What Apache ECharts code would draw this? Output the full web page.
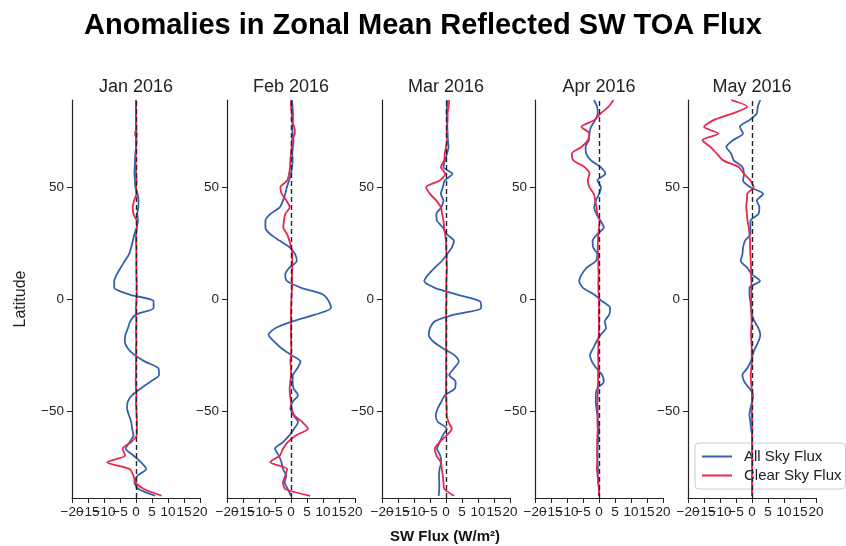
<!DOCTYPE html>
<html>
<head>
<meta charset="utf-8">
<script src="https://cdn.jsdelivr.net/npm/echarts@6/dist/echarts.min.js"></script>
<style>
  html, body { margin: 0; padding: 0; background: #fff; }
  #chart { width: 846px; height: 546px; }
</style>
</head>
<body>
<div id="chart"></div>
<script>
// latitude of every sample, north to south
const lats = [89, 86, 83, 80, 77, 74, 71, 68, 65, 62, 59, 56, 53, 50, 47, 44, 41, 38, 35, 32,
  29, 26, 23, 20, 17, 14, 11, 8, 5, 2, -1, -4, -7, -10, -13, -16, -19, -22, -25, -28,
  -31, -34, -37, -40, -43, -46, -49, -52, -55, -58, -61, -64, -67, -70, -73, -76, -79, -82, -85, -88]

const months = ['Jan 2016', 'Feb 2016', 'Mar 2016', 'Apr 2016', 'May 2016']

// x tick labels, split in two sets so that echarts does not drop the overlapping ones
const xTicksEven = [-20, -10, 0, 10, 20]
const xTicksOdd = [-15, -5, 5, 15]
const yTicks = [-50, 0, 50]

// All Sky Flux anomaly (W/m2)
const janAll = [0, 0, 0, 0, 0, 0.2, 0, 0, -0.2, -0.3,
  -0.4, -0.5, -0.3, -0.2, 0.5, 0.8, 0.7, 0.4, 0.6, 0.2,
  -0.5, -1.0, -1.5, -2.2, -3.5, -4.8, -6.0, -6.8, -6.8, -2.0,
  5.5, 5.5, 0.0, -1.8, -2.5, -3.3, -3.5, -2.6, -0.5, 2.8,
  7.0, 7.2, 4.5, 1.5, -1.2, -2.6, -2.8, -2.2, -1.5, -1.2,
  -0.8, -2.0, -3.2, -0.8, 1.5, 3.2, 0.5, -0.5, 0.8, 6.0]
const febAll = [0.3, 0.5, 0.6, 0.6, 0.4, 0.5, 0.8, 0.6, 0.4, 0.5,
  0.3, 0.0, -0.6, -1.3, -1.8, -2.5, -3.5, -6.5, -8.0, -8.0,
  -6.5, -3.5, -0.3, 1.3, 1.8, -0.5, -1.8, -1.2, 3.2, 10.0,
  11.8, 12.5, 7.5, 0.5, -4.8, -7.0, -5.3, -3.0, 0.0, 3.0,
  2.0, 0.6, 0.5, 0.8, 2.2, 0.5, -0.2, 0.8, 2.2, 1.0,
  -0.5, -2.5, -5.0, -3.8, -3.0, -2.5, -1.5, -2.0, -1.0, 0.0]
const marAll = [0.3, 0.3, 0.2, 0.3, 0.4, 0.5, 0.6, 0.8, 0.3, -0.3,
  -0.8, 2.0, -0.4, -1.0, -1.6, -0.8, -1.5, -3.0, -2.8, -1.0,
  0.2, 2.5, 1.8, 0.3, -1.3, -3.5, -5.5, -6.8, -3.5, 3.5,
  10.6, 11.0, 2.5, -3.5, -5.0, -5.4, -4.0, -1.0, 2.5, 4.0,
  2.5, 1.0, 3.0, 2.8, -0.3, -1.5, -2.6, -3.2, -2.5, 0.2,
  -1.0, -2.0, -2.8, -1.8, -1.5, -2.0, -2.2, -2.1, -2.1, -2.3]
const aprAll = [-1.6, -0.6, -0.4, -1.2, -2.5, -3.0, -3.2, -4.2, -4.0, -2.5,
  0.5, 2.0, -0.5, 0.6, 0, -1.0, -1.5, -0.8, 0.5, 1.5,
  -0.5, -2.0, -1.8, -0.5, -1.0, -3.8, -5.4, -6.2, -5.0, -1.5,
  1.0, 3.5, 3.2, 1.8, 2.2, 0.5, -0.8, -1.8, -2.8, -2.2,
  -0.8, 1.0, 1.5, -0.5, -1.0, -1.0, -0.8, -0.5, -0.3, 0,
  -0.2, -0.3, -0.5, -0.4, -0.5, -0.3, -0.4, -0.2, 0, 0]
const mayAll = [2.6, 1.8, 1.5, -0.8, -3.8, -2.8, -6.0, -8.0, -6.5, -5.7,
  -3.0, -2.5, -2.8, -0.5, 3.5, 1.5, 2.3, 2.0, -0.5, -0.5,
  -0.5, -2.2, -2.8, -3.0, -3.5, -1.5, 0, 2.5, -0.8, -0.8,
  -0.5, -0.3, 0, 0.8, 2.0, 2.6, 2.0, 1.0, 0.2, -0.4,
  -1.5, -3.0, -2.4, -0.8, 0.3, 0, -0.5, -0.8, -0.5, -0.3,
  0, 0, 0, 0, 0, 0, 0, 0, 0, 0]

// Clear Sky Flux anomaly (W/m2)
const janClear = [0, 0, 0, 0, 0.1, -0.3, 0.2, 0, 0, -0.2,
  0, 0, 0.2, 0, 0.1, -0.6, -1.0, -0.8, 0.2, 0.3,
  0, 0, 0.1, 0.1, 0.1, 0.1, 0.1, 0.2, 0.2, 0.2,
  0.1, 0, 0, 0.1, 0, 0, 0.1, 0, 0, 0,
  0, 0, -0.1, 0, 0.1, 0, 0.1, 0.2, 0.3, 0.3,
  0.2, -1.5, -4.2, -3.4, -9.0, -2.0, -0.8, -0.2, 2.5, 8.0]
const febClear = [0, 0, 0.3, 0.2, 1.0, 1.2, 0.3, 0.2, 0, -0.2,
  -0.3, -0.6, -1.2, -3.3, -2.9, -1.4, -0.4, -1.8, -2.2, -2.4,
  -1.2, -0.5, 0.1, 0.4, 0.4, 0.4, 0.3, 0.3, 0.3, 0.2,
  0.1, 0, 0, 0, 0, 0, 0, 0.1, 0, -0.2,
  0, 0, -0.2, -0.4, -0.3, 0, 0.2, 1.0, 3.5, 5.3,
  1.5, -1.0, -2.5, -3.5, -6.5, -1.2, -1.8, -2.5, -1.8, 6.0]
const marClear = [1.0, 0.8, 0.5, 0.5, 0.3, 0.2, 0.4, 0.0, -0.4, -0.6,
  -1.6, -0.2, -2.0, -6.2, -5.0, -3.0, -1.6, -1.2, -0.8, -0.6,
  -0.3, 0, 0, 0.2, 0.2, 0.3, 0.2, 0.1, 0.1, 0.1,
  0.1, 0, 0, 0, 0.1, 0, 0, 0, 0.1, 0,
  0, 0.1, 0, 0, 0, 0.1, 0.2, 0.2, 0.8, 1.8,
  0.2, -2.0, -3.5, -3.0, -1.6, -1.3, -1.0, -0.8, -0.5, 2.5]
const aprClear = [4.5, 3.0, 0.5, -1.5, -5.5, -3.0, -3.5, -5.5, -8.5, -8.0,
  -4.5, -3.0, -3.5, -3.0, -1.6, -1.2, -0.8, -0.5, 0.2, 0,
  -0.2, -0.3, -0.4, -0.3, -0.2, -0.2, -0.1, -0.2, -0.2, -0.1,
  0, 0, -0.1, 0, 0, -0.1, -0.2, -0.2, -0.3, -0.2,
  -0.2, -0.3, -0.3, -0.4, -0.4, -0.5, -0.4, -0.4, -0.5, -0.4,
  -0.5, -0.6, -0.5, -0.6, -0.5, -0.7, -0.4, -0.3, 0, 0]
const mayClear = [-6.5, -1.5, -6.0, -12.0, -15.0, -10.5, -15.5, -13.0, -11.0, -9.0,
  -4.2, -2.5, -0.5, 0.5, -1.5, -1.6, -1.8, -1.6, -1.4, -1.0,
  -0.8, -0.6, -0.6, -0.5, -0.4, -0.3, -0.3, -0.2, -0.2, -0.2,
  -0.3, -0.2, -0.2, -0.1, -0.2, -0.3, -0.2, -0.1, -0.1, 0,
  -0.2, -0.4, -0.3, -0.1, 0, 0, -0.1, 0, 0, 0,
  0, 0, 0, 0, 0, 0, 0, 0, 0, 0]

const allSky = [janAll, febAll, marAll, aprAll, mayAll]
const clearSky = [janClear, febClear, marClear, aprClear, mayClear]

const blue = '#3461ae'
const red = '#e8264e'
const ink = '#222'
const font = 'Liberation Sans, Arial, sans-serif'
const panelLeft = [72, 227, 382, 535, 688]
const panelW = 128

// matplotlib style minus sign
const fmt = v => String(v).replace('-', '\u2212')

let chart = echarts.init(document.getElementById('chart'))

let series = []
months.forEach((m, i) => {
  series.push({
    name: 'All Sky Flux',
    type: 'line',
    xAxisIndex: 2 * i,
    yAxisIndex: i,
    symbol: 'none',
    smooth: 0.25,
    z: 3,
    data: lats.map((lat, k) => [allSky[i][k], lat]),
    lineStyle: { color: blue, width: 1.8 },
    itemStyle: { color: blue },
    markLine: {
      silent: true,
      symbol: 'none',
      label: { show: false },
      lineStyle: { type: [5, 3], color: '#1c2a2a', width: 1.4 },
      data: [{ xAxis: 0 }]
    }
  })
  series.push({
    name: 'Clear Sky Flux',
    type: 'line',
    xAxisIndex: 2 * i,
    yAxisIndex: i,
    symbol: 'none',
    smooth: 0.25,
    z: 4,
    data: lats.map((lat, k) => [clearSky[i][k], lat]),
    lineStyle: { color: red, width: 1.8 },
    itemStyle: { color: red }
  })
})

let xAxes = []
months.forEach((m, i) => {
  // main axis: line, all ticks, labels at multiples of 10
  xAxes.push({
    gridIndex: i,
    type: 'value',
    min: -20,
    max: 20,
    interval: 5,
    axisLine: { onZero: false, lineStyle: { color: ink, width: 1.2 } },
    axisTick: { length: 5, lineStyle: { color: ink } },
    axisLabel: { color: ink, fontSize: 13.5, margin: 7, formatter: fmt, customValues: xTicksEven },
    splitLine: { show: false }
  })
  // overlay axis carrying the in-between labels
  xAxes.push({
    gridIndex: i,
    type: 'value',
    min: -20,
    max: 20,
    interval: 5,
    position: 'bottom',
    offset: 0,
    axisLine: { show: false, onZero: false },
    axisTick: { show: false },
    axisLabel: { color: ink, fontSize: 13.5, margin: 7, formatter: fmt, customValues: xTicksOdd },
    splitLine: { show: false }
  })
})

let option = {
  animation: false,
  backgroundColor: '#fff',
  textStyle: { fontFamily: font },
  title: {
    text: 'Anomalies in Zonal Mean Reflected SW TOA Flux',
    left: 'center',
    top: 6,
    textStyle: { fontSize: 29, fontWeight: 'bold', color: '#000' }
  },
  legend: {
    data: ['All Sky Flux', 'Clear Sky Flux'],
    orient: 'vertical',
    left: 695,
    top: 443,
    icon: 'rect',
    itemWidth: 30,
    itemHeight: 2,
    itemGap: 4,
    padding: [6, 4, 6, 7],
    textStyle: { fontSize: 15, color: ink, padding: [0, 0, 0, 7] },
    borderColor: '#cccccc',
    borderWidth: 1,
    borderRadius: 4,
    backgroundColor: 'rgba(255,255,255,0.8)'
  },
  graphic: months.map((m, i) => ({
    type: 'text',
    x: panelLeft[i] + panelW / 2,
    y: 87,
    style: {
      text: m,
      fontSize: 18,
      fontFamily: font,
      fill: ink,
      align: 'center',
      verticalAlign: 'middle',
      textAlign: 'center',
      textVerticalAlign: 'middle'
    }
  })).concat([{
    type: 'text',
    x: 445,
    y: 537,
    style: {
      text: 'SW Flux (W/m\u00b2)',
      fontSize: 15,
      fontWeight: 'bold',
      fontFamily: font,
      fill: '#111',
      align: 'center',
      verticalAlign: 'middle',
      textAlign: 'center',
      textVerticalAlign: 'middle'
    }
  }]),
  grid: panelLeft.map(l => ({ left: l, top: 100, width: panelW, height: 398, outerBoundsMode: 'none', containLabel: false })),
  xAxis: xAxes,
  yAxis: months.map((m, i) => ({
    gridIndex: i,
    type: 'value',
    min: -89,
    max: 89,
    name: i === 0 ? 'Latitude' : '',
    nameLocation: 'middle',
    nameGap: 43,
    nameTextStyle: { fontSize: 16, color: ink },
    axisLine: { onZero: false, lineStyle: { color: ink, width: 1.2 } },
    axisTick: { length: 5, lineStyle: { color: ink }, customValues: yTicks },
    axisLabel: { color: ink, fontSize: 13.5, margin: 8, formatter: fmt, customValues: yTicks },
    splitLine: { show: false }
  })),
  series: series
}

chart.setOption(option)
</script>
</body>
</html>
